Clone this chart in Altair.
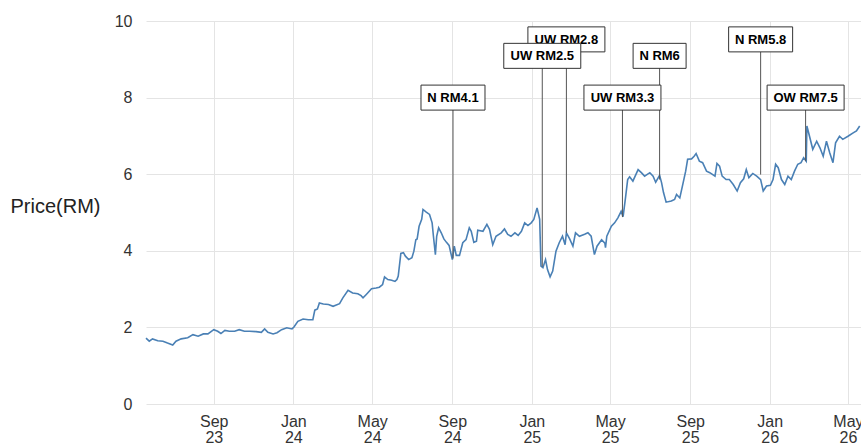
import altair as alt
import pandas as pd

# ---- price series ----
dates = [
    "2023-05-20", "2023-05-25", "2023-05-30", "2023-06-07", "2023-06-15", "2023-06-22", "2023-06-30",
    "2023-07-05", "2023-07-13", "2023-07-23", "2023-07-31", "2023-08-08", "2023-08-16", "2023-08-23",
    "2023-09-01", "2023-09-07", "2023-09-12", "2023-09-18", "2023-09-25", "2023-10-03", "2023-10-10",
    "2023-10-18", "2023-10-26", "2023-11-05", "2023-11-13", "2023-11-18", "2023-11-23", "2023-12-01",
    "2023-12-07", "2023-12-14", "2023-12-22", "2023-12-30", "2024-01-02", "2024-01-08", "2024-01-16",
    "2024-01-24", "2024-01-31", "2024-02-03", "2024-02-07", "2024-02-10", "2024-02-16", "2024-02-24",
    "2024-03-02", "2024-03-12", "2024-03-17", "2024-03-25", "2024-04-01", "2024-04-09", "2024-04-14",
    "2024-04-17", "2024-04-22", "2024-04-30", "2024-05-07", "2024-05-12", "2024-05-17", "2024-05-20",
    "2024-05-25", "2024-05-31", "2024-06-05", "2024-06-08", "2024-06-10", "2024-06-14", "2024-06-18",
    "2024-06-21", "2024-06-26", "2024-07-01", "2024-07-04", "2024-07-07", "2024-07-09", "2024-07-12",
    "2024-07-16", "2024-07-18", "2024-07-23", "2024-07-28", "2024-08-01", "2024-08-03", "2024-08-06",
    "2024-08-08", "2024-08-11", "2024-08-15", "2024-08-19", "2024-08-23", "2024-08-27", "2024-09-01",
    "2024-09-04", "2024-09-07", "2024-09-12", "2024-09-17", "2024-09-22", "2024-09-27", "2024-09-30",
    "2024-10-04", "2024-10-08", "2024-10-10", "2024-10-18", "2024-10-24", "2024-10-28", "2024-11-02",
    "2024-11-07", "2024-11-15", "2024-11-20", "2024-11-25", "2024-11-30", "2024-12-06", "2024-12-11",
    "2024-12-16", "2024-12-21", "2024-12-26", "2024-12-31", "2025-01-04", "2025-01-09", "2025-01-13",
    "2025-01-15", "2025-01-18", "2025-01-22", "2025-01-25", "2025-01-29", "2025-02-02", "2025-02-07",
    "2025-02-12", "2025-02-17", "2025-02-21", "2025-02-23", "2025-02-28", "2025-03-05", "2025-03-09",
    "2025-03-15", "2025-03-23", "2025-03-28", "2025-04-02", "2025-04-07", "2025-04-11", "2025-04-18",
    "2025-04-23", "2025-04-24", "2025-04-26", "2025-05-03", "2025-05-08", "2025-05-13", "2025-05-18",
    "2025-05-21", "2025-05-25", "2025-05-28", "2025-05-31", "2025-06-05", "2025-06-13", "2025-06-18",
    "2025-06-23", "2025-07-01", "2025-07-06", "2025-07-10", "2025-07-16", "2025-07-19", "2025-07-22",
    "2025-07-26", "2025-08-03", "2025-08-08", "2025-08-11", "2025-08-16", "2025-08-20", "2025-08-25",
    "2025-08-28", "2025-09-03", "2025-09-07", "2025-09-10", "2025-09-15", "2025-09-20", "2025-09-26",
    "2025-10-01", "2025-10-09", "2025-10-12", "2025-10-16", "2025-10-20", "2025-10-26", "2025-10-31",
    "2025-11-06", "2025-11-12", "2025-11-17", "2025-11-22", "2025-11-26", "2025-11-30", "2025-12-06",
    "2025-12-12", "2025-12-18", "2025-12-22", "2025-12-27", "2026-01-02", "2026-01-06", "2026-01-10",
    "2026-01-14", "2026-01-19", "2026-01-24", "2026-01-29", "2026-02-03", "2026-02-08", "2026-02-13",
    "2026-02-18", "2026-02-22", "2026-02-26", "2026-02-27", "2026-03-03", "2026-03-08", "2026-03-14",
    "2026-03-19", "2026-03-24", "2026-03-29", "2026-04-03", "2026-04-08", "2026-04-12", "2026-04-18",
    "2026-04-23", "2026-05-01", "2026-05-09", "2026-05-14", "2026-05-19",
]
prices = [
    1.72, 1.64, 1.70, 1.65, 1.64, 1.59, 1.54,
    1.64, 1.70, 1.73, 1.81, 1.77, 1.83, 1.83,
    1.94, 1.90, 1.84, 1.92, 1.90, 1.90, 1.94,
    1.90, 1.90, 1.89, 1.87, 1.96, 1.87, 1.83,
    1.86, 1.94, 1.99, 1.96, 2.01, 2.16, 2.22,
    2.20, 2.20, 2.45, 2.48, 2.64, 2.61, 2.60,
    2.55, 2.62, 2.77, 2.97, 2.90, 2.88, 2.83,
    2.77, 2.86, 3.01, 3.03, 3.05, 3.12, 3.32,
    3.25, 3.23, 3.20, 3.25, 3.34, 3.93, 3.95,
    3.86, 3.77, 3.82, 3.99, 4.29, 4.31, 4.64,
    4.82, 5.08, 5.01, 4.95, 4.73, 4.38, 3.90,
    4.38, 4.60, 4.47, 4.31, 4.22, 4.14, 3.77,
    4.12, 3.88, 3.88, 4.21, 4.29, 4.60, 4.51,
    4.22, 4.25, 4.54, 4.51, 4.69, 4.56, 4.16,
    4.38, 4.47, 4.57, 4.43, 4.38, 4.47, 4.40,
    4.51, 4.73, 4.66, 4.73, 4.82, 5.12, 4.82,
    3.60, 3.56, 3.77, 3.51, 3.32, 3.47, 3.99,
    4.21, 4.38, 4.16, 4.47, 4.31, 4.12, 4.47,
    4.38, 4.43, 4.47, 4.38, 3.90, 4.12, 4.29,
    4.20, 4.08, 4.38, 4.64, 4.73, 4.86, 5.03,
    4.89, 5.43, 5.86, 5.93, 5.82, 6.12, 6.04,
    5.95, 6.04, 5.95, 5.79, 5.97, 5.78, 5.52,
    5.27, 5.30, 5.34, 5.47, 5.38, 5.69, 6.08,
    6.39, 6.40, 6.47, 6.54, 6.34, 6.30, 6.08,
    6.04, 5.95, 6.28, 6.21, 5.95, 5.86, 5.86,
    5.73, 5.56, 5.78, 5.88, 6.12, 5.91, 6.02,
    5.95, 5.86, 5.56, 5.69, 5.71, 5.86, 6.26,
    6.17, 5.86, 5.73, 5.95, 5.86, 6.08, 6.26,
    6.30, 6.43, 6.34, 7.26, 6.99, 6.65, 6.86,
    6.69, 6.47, 6.86, 6.56, 6.30, 6.82, 6.99,
    6.91, 6.99, 7.08, 7.13, 7.26,
]

# ---- analyst calls ----
call_labels = ["N RM4.1", "UW RM2.8", "UW RM2.5", "UW RM3.3", "N RM6", "N RM5.8", "OW RM7.5"]
call_dates = ["2024-09-02", "2025-02-23", "2025-01-17", "2025-05-20", "2025-07-16", "2025-12-18", "2026-02-25"]
call_level = [8.0, 9.52, 9.09, 8.0, 9.09, 9.52, 8.0]
call_price = [3.8, 4.47, 3.59, 4.88, 5.86, 5.99, 6.34]

# ---- axis ticks ----
x_ticks = ["2023-09-01", "2024-01-01", "2024-05-01", "2024-09-01", "2025-01-01",
           "2025-05-01", "2025-09-01", "2026-01-01", "2026-05-01"]
y_ticks = [0, 2, 4, 6, 8, 10]
x_domain = ["2023-05-20", "2026-05-21"]

price_df = pd.DataFrame({"date": dates, "price": prices})
calls_df = pd.DataFrame({"date": call_dates, "label": call_labels,
                         "level": call_level, "end": call_price})

FONT = "Liberation Sans"
GRID = "#e4e4e4"

xscale = alt.Scale(domain=x_domain)
yscale = alt.Scale(domain=[0, 10], nice=False, zero=True)

xaxis = alt.Axis(values=x_ticks, title=None, grid=True, gridColor=GRID, gridWidth=1,
                 domain=False, ticks=False, tickSize=0, labelPadding=9,
                 labelExpr="[utcFormat(datum.value, '%b'), utcFormat(datum.value, '%y')]",
                 labelFont=FONT, labelFontSize=16, labelLineHeight=16,
                 labelColor="#333333", labelAngle=0, labelBaseline="top")
yaxis = alt.Axis(values=y_ticks, grid=True, gridColor=GRID, gridWidth=1,
                 domain=False, ticks=False, tickSize=0, labelPadding=14,
                 labelFont=FONT, labelFontSize=16, labelColor="#333333",
                 title="Price(RM)", titleAngle=0, titleAlign="left",
                 titleBaseline="middle", titleX=-136, titleY=185,
                 titleFont=FONT, titleFontSize=20, titleFontWeight="normal",
                 titleColor="#222222")


def X(field="date:T"):
    return alt.X(field, scale=xscale, axis=xaxis)


def Y(field):
    return alt.Y(field, scale=yscale, axis=yaxis)


line = alt.Chart(price_df).mark_line(color="#4a80b5", strokeWidth=1.6).encode(
    x=X(), y=Y("price:Q"),
)

rules = alt.Chart(calls_df).mark_rule(color="#555555", strokeWidth=1).encode(
    x=X(), y=Y("level:Q"), y2="end:Q",
)

box_paths = [
    "M-0.6625,-0.3125L0.6625,-0.3125L0.6625,0.3125L-0.6625,0.3125Z",
    "M-0.8,-0.3125L0.8,-0.3125L0.8,0.3125L-0.8,0.3125Z",
    "M-0.9625,-0.3125L0.9625,-0.3125L0.9625,0.3125L-0.9625,0.3125Z",
]


def boxes_and_text(filter_expr):
    base = alt.Chart(calls_df).transform_filter(filter_expr).transform_calculate(
        nchar="toString(length(datum.label))"
    )
    box = base.mark_point(filled=True, fill="white", stroke="#333333", strokeWidth=1,
                          opacity=1, fillOpacity=1, size=6400).encode(
        x=X(), y=Y("level:Q"),
        shape=alt.Shape("nchar:N", scale=alt.Scale(domain=["5", "7", "8"], range=box_paths),
                        legend=None),
    )
    txt = base.mark_text(font=FONT, fontWeight="bold", fontSize=13, color="#000000",
                         align="center", baseline="middle", dy=0.5).encode(
        x=X(), y=Y("level:Q"), text="label:N",
    )
    return box, txt


back_box, back_txt = boxes_and_text("datum.label != 'UW RM2.5'")
front_box, front_txt = boxes_and_text("datum.label == 'UW RM2.5'")

chart = alt.layer(line, rules, back_box, back_txt, front_box, front_txt).properties(
    width=715, height=383,
    autosize=alt.AutoSizeParams(type="none"),
    padding={"left": 146, "top": 21, "right": 0, "bottom": 40},
    background="white",
).configure_view(stroke=None)

chart.save("out.html", embed_options={"renderer": "svg", "actions": False})
